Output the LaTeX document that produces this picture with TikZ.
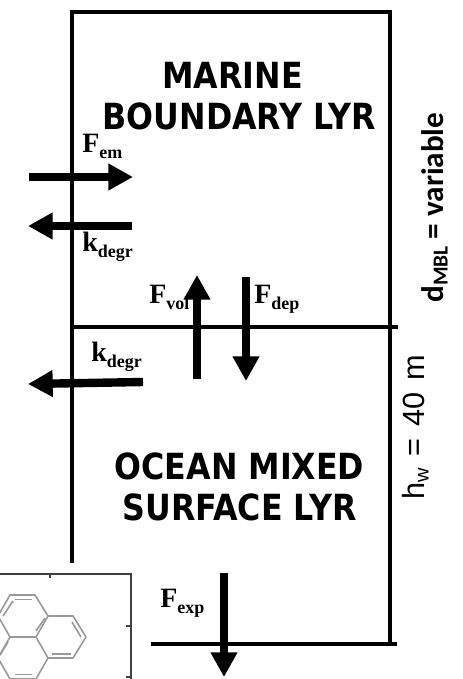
\documentclass[tikz,border=0pt]{standalone}
\usepackage{fontspec}
\setmainfont{Liberation Serif}
\newfontfamily\headfont{DejaVu Sans}[FakeStretch=0.88]
\newfontfamily\sidefont{Carlito}
\newfontfamily\depthfont{Liberation Sans}
\usetikzlibrary{arrows.meta,positioning}
\newcommand{\flux}[2]{\fontsize{21}{21}\selectfont\bfseries #1\raisebox{-4.5pt}{\fontsize{13.5}{13.5}\selectfont #2}}

\begin{document}
\begin{tikzpicture}[
  x=0.75pt, y=-0.75pt,
  wall/.style={line width=2.3pt, line cap=rect},
  arr/.style={-{Triangle[length=18.5pt, width=19pt]}, line width=6.3pt},
  lbl/.style={anchor=base west, inner sep=0pt},
  head/.style={align=center, inner sep=0pt, font=\headfont\fontsize{27}{30.7}\selectfont\bfseries},
  ring/.style={draw=black!40, line width=1.2pt, line join=round},
  frm/.style={draw=black!75, line width=1.5pt}
]
\useasboundingbox (0,0) rectangle (462,679);
% box corners
\coordinate (tl) at (72,12);
\coordinate (tr) at (390,12);
\coordinate (ml) at (72,327);
\coordinate (mr) at (396,327);
\coordinate (wl) at (72,561);
\coordinate (wr) at (390,643);
\coordinate (bl) at (153,644);
\coordinate (br) at (395,644);
\draw[wall] (wl) -- (tl) -- (tr) -- (wr);
\draw[wall] (ml) -- (mr);
\draw[wall] (bl) -- (br);
% flux arrows
\coordinate (ema) at (29,177);
\coordinate (emb) at (133,177);
\coordinate (kaa) at (132,226);
\coordinate (kab) at (28,226);
\coordinate (kba) at (143,382);
\coordinate (kbb) at (28,384);
\coordinate (vola) at (197,379);
\coordinate (volb) at (197,275);
\coordinate (depa) at (246,277);
\coordinate (depb) at (246,381);
\coordinate (expa) at (224,573);
\coordinate (expb) at (224,677);
\draw[arr] (ema) -- (emb);
\draw[arr] (kaa) -- (kab);
\draw[arr] (kba) -- (kbb);
\draw[arr] (vola) -- (volb);
\draw[arr] (depa) -- (depb);
\draw[arr] (expa) -- (expb);
% labels
\node[lbl] (fem) at (82,152) {\flux{F}{em}};
\node[lbl] (kup) at (82,251) {\flux{k}{degr}};
\node[lbl] (fvol) at (149,303) {\flux{F}{vol}};
\node[lbl] (fdep) at (254,303) {\flux{F}{dep}};
\node[lbl] (klo) at (91,361) {\flux{k}{degr}};
\node[lbl] (fexp) at (160,607) {\flux{F}{exp}};
\node[head] (mbl) at (239.5,96) {\hspace*{-10.5pt}MARINE\\BOUNDARY LYR};
\node[head] (oml) at (239.5,487) {OCEAN MIXED\\SURFACE LYR};
\node[rotate=90, anchor=base west, inner sep=0pt, font=\sidefont\fontsize{23.4}{26}\selectfont\bfseries] (dmbl) at (443,303) {d\raisebox{-3.5pt}{\fontsize{16}{16}\selectfont MBL} = variable};
\node[rotate=90, anchor=base west, inner sep=0pt, font=\depthfont\fontsize{23}{27}\selectfont] (hw) at (424,500) {\spaceskip=9pt h\raisebox{-3.5pt}{\fontsize{15}{15}\selectfont w} = 40 m};
% inset frame
\coordinate (fa) at (0,573.5);
\coordinate (fb) at (130.5,573.5);
\coordinate (fc) at (130.5,679);
\draw[frm] (fa) -- (fb) -- (fc);
\draw[frm] (50,574) -- (50,578);
\foreach \y in {626,677} \draw[frm] (130,\y) -- (126,\y);
% molecule
\draw[ring] (10,595) -- (35,595) -- (48,616) -- (36,637) -- (10,637) -- (-2,616) -- cycle;
\draw[ring] (48,616) -- (73,616) -- (86,637) -- (73,658) -- (48,658) -- (36,637);
\draw[ring] (48,658) -- (36,679) -- (10,679) -- (-2,658) -- (10,637);
\foreach \ax/\ay/\bx/\by in {15/599.5/32/599.5, 3/616/13/601, 36/631/45/618, 72/622/81/637, 52/654/71/654, 8/642/0/655, 15/674.5/32/674.5}
  \draw[ring] (\ax,\ay) -- (\bx,\by);
\end{tikzpicture}
\end{document}
